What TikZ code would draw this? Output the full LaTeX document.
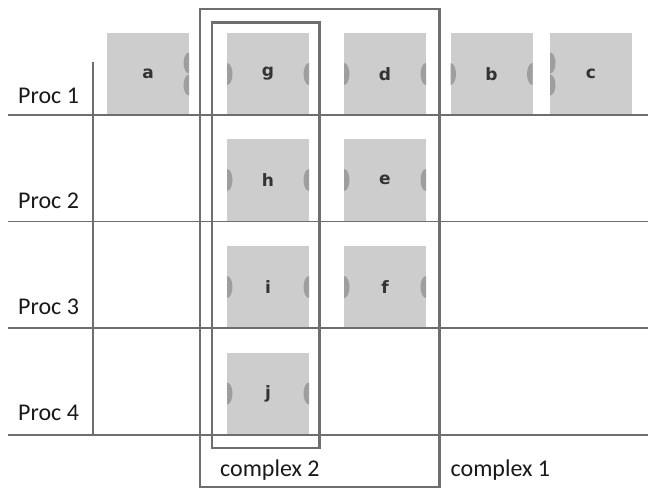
\documentclass[tikz,border=0pt]{standalone}
\usepackage{fontspec}
\setmainfont{Carlito}
\newfontfamily\blkfont{DejaVu Sans}
\usetikzlibrary{calc}
\definecolor{blockgray}{HTML}{CDCDCD}
\definecolor{notchgray}{HTML}{9E9E9E}
\definecolor{linegray}{HTML}{6E6E6E}
\tikzset{
  blk/.style={fill=blockgray, minimum width=82pt, minimum height=82pt, inner sep=0pt,
    font=\fontsize{17}{20}\blkfont\bfseries\selectfont, text=black!80},
  nlr/.style={path picture={
    \fill[notchgray] (path picture bounding box.west) ellipse[x radius=5.5pt, y radius=11pt];
    \fill[notchgray] (path picture bounding box.east) ellipse[x radius=5.5pt, y radius=11pt];}},
  nr2/.style={path picture={
    \fill[notchgray] ($(path picture bounding box.east)+(0,-11)$) ellipse[x radius=5.5pt, y radius=10.5pt];
    \fill[notchgray] ($(path picture bounding box.east)+(0,11)$) ellipse[x radius=5.5pt, y radius=10.5pt];}},
  nl2/.style={path picture={
    \fill[notchgray] ($(path picture bounding box.west)+(0,-11)$) ellipse[x radius=5.5pt, y radius=10.5pt];
    \fill[notchgray] ($(path picture bounding box.west)+(0,11)$) ellipse[x radius=5.5pt, y radius=10.5pt];}},
  gridline/.style={draw=linegray, line width=1.8pt},
  cbox/.style={draw=linegray, line width=2.6pt},
  proc/.style={anchor=base west, inner sep=0pt, font=\fontsize{24}{28}\selectfont, text=black!90},
  clabel/.style={anchor=base west, inner sep=0pt, font=\fontsize{24}{28}\selectfont, text=black!90}
}
\begin{document}
\begin{tikzpicture}[x=1pt, y=-1pt]
\useasboundingbox (0,0) rectangle (648,490);
% blocks
\node[blk, nr2] (a) at (148,74) {a};
\node[blk, nlr] (g) at (268,74) {g};
\node[blk, nlr] (d) at (385,74) {d};
\node[blk, nlr] (b) at (491.5,74) {b};
\node[blk, nl2] (c) at (591,74) {c};
\node[blk, nlr] (h) at (268,180) {h};
\node[blk, nlr] (e) at (385,180) {e};
\node[blk, nlr] (i) at (268,287) {i};
\node[blk, nlr] (f) at (385,287) {f};
\node[blk, nlr] (j) at (268,393.5) {j};
% grid
\coordinate (r1l) at (8,115);   \coordinate (r1r) at (648,115);
\coordinate (r2l) at (8,221.5); \coordinate (r2r) at (648,221.5);
\coordinate (r3l) at (8,328);   \coordinate (r3r) at (648,328);
\coordinate (r4l) at (8,435);   \coordinate (r4r) at (648,435);
\coordinate (vt) at (93,62);    \coordinate (vb) at (93,435);
\draw[gridline] (r1l) -- (r1r);
\draw[gridline] (r2l) -- (r2r);
\draw[gridline] (r3l) -- (r3r);
\draw[gridline] (r4l) -- (r4r);
\draw[gridline] (vt) -- (vb);
% labels
\node[proc] (p1) at (18,103) {Proc 1};
\node[proc] (p2) at (18,208) {Proc 2};
\node[proc] (p3) at (18,314.5) {Proc 3};
\node[proc] (p4) at (18,420.5) {Proc 4};
% complex boxes
\coordinate (c1a) at (200,9);  \coordinate (c1b) at (439.5,487);
\coordinate (c2a) at (212,22.5); \coordinate (c2b) at (319.5,448);
\draw[cbox] (c1a) rectangle (c1b);
\draw[cbox] (c2a) rectangle (c2b);
\node[clabel] (cx2) at (220,476) {complex 2};
\node[clabel] (cx1) at (450.5,476) {complex 1};
\end{tikzpicture}
\end{document}
